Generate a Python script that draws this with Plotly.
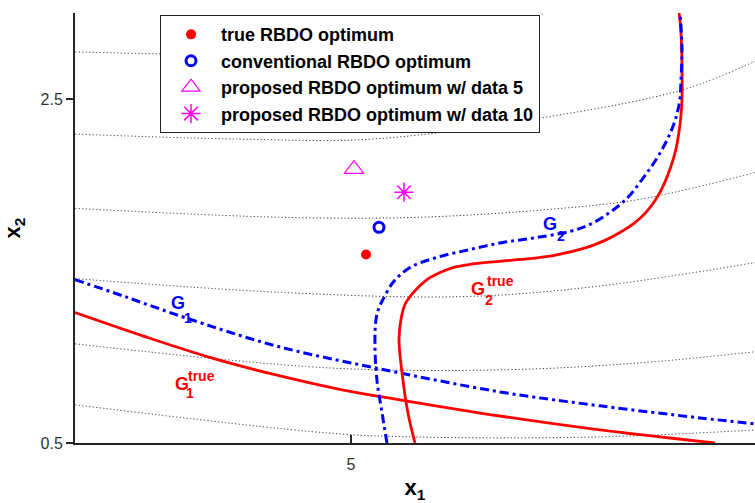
import plotly.graph_objects as go

# ---- data ----
# optimum points
true_opt_x = [5.109]
true_opt_y = [1.596]
conv_opt_x = [5.203]
conv_opt_y = [1.754]
prop5_x = [5.022]
prop5_y = [2.092]
prop10_x = [5.384]
prop10_y = [1.958]

# constraint boundaries
g1_true_x = [3.000, 3.486, 3.964, 4.449, 4.935, 5.355, 6.080, 6.804, 7.638]
g1_true_y = [1.258, 1.124, 1.001, 0.897, 0.809, 0.751, 0.657, 0.576, 0.500]

g1_conv_x = [3.000, 3.362, 3.797, 4.449, 5.174, 6.080, 6.804, 7.529, 7.928]
g1_conv_y = [1.450, 1.351, 1.229, 1.066, 0.937, 0.797, 0.716, 0.646, 0.611]

g2_true_x = [5.464, 5.413, 5.370, 5.348, 5.362, 5.391, 5.428, 5.486, 5.551, 5.645,
             5.739, 5.862, 5.986, 6.225, 6.464, 6.710, 6.841, 6.949, 7.051, 7.138,
             7.210, 7.268, 7.319, 7.355, 7.377, 7.391, 7.399, 7.399, 7.391, 7.377]
g2_true_y = [0.500, 0.675, 0.908, 1.101, 1.217, 1.305, 1.351, 1.404, 1.450, 1.491,
             1.520, 1.538, 1.550, 1.567, 1.590, 1.637, 1.678, 1.724, 1.777, 1.841,
             1.917, 2.004, 2.109, 2.208, 2.308, 2.401, 2.500, 2.692, 2.891, 3.007]

g2_conv_x = [5.261, 5.225, 5.188, 5.174, 5.181, 5.203, 5.232, 5.304, 5.428, 5.623,
             5.862, 6.101, 6.348, 6.587, 6.732, 6.877, 7.007, 7.116, 7.203, 7.275,
             7.326, 7.362, 7.384, 7.391, 7.399, 7.384]
g2_conv_y = [0.500, 0.675, 0.867, 1.060, 1.217, 1.287, 1.334, 1.433, 1.520, 1.579,
             1.625, 1.666, 1.695, 1.730, 1.771, 1.841, 1.928, 2.039, 2.138, 2.237,
             2.325, 2.412, 2.500, 2.599, 2.792, 3.007]

# objective contours (dotted)
contours = [
    ([3.0, 3.638, 4.630, 5.500, 6.080, 6.406], [2.774, 2.762, 2.751, 2.792, 2.891, 3.001]),
    ([3.0, 4.188, 5.152, 6.464, 7.420, 7.935], [2.296, 2.267, 2.267, 2.401, 2.558, 2.722]),
    ([3.0, 4.507, 5.478, 6.449, 7.094, 7.935], [1.864, 1.812, 1.812, 1.859, 1.917, 2.074]),
    ([3.0, 4.507, 5.804, 6.775, 7.935], [1.456, 1.375, 1.351, 1.410, 1.550]),
    ([3.0, 4.833, 6.123, 7.094, 7.935], [1.077, 0.937, 0.926, 0.966, 1.031]),
    ([3.0, 4.833, 5.478, 6.775, 7.935], [0.722, 0.558, 0.535, 0.535, 0.576]),
]

x_tickvals = [5]
x_ticktext = ["5"]
y_tickvals = [0.5, 2.5]
y_ticktext = ["0.5", "2.5"]

legend_names = ["true RBDO optimum", "conventional RBDO optimum",
                "proposed RBDO optimum w/ data 5", "proposed RBDO optimum w/ data 10"]

RED = "#FF0000"
BLUE = "#0000FF"
MAG = "#FF00FF"
FONT = "Liberation Sans, Arial, sans-serif"

fig = go.Figure()

for cx, cy in contours:
    fig.add_trace(go.Scatter(x=cx, y=cy, mode="lines", line_shape="spline",
                             line=dict(color="#333333", width=1, dash="1.2px,2.3px"),
                             showlegend=False, hoverinfo="skip"))

dashdot = "9px,4px,3px,4px"
fig.add_trace(go.Scatter(x=g1_conv_x, y=g1_conv_y, mode="lines", line_shape="spline",
                         line=dict(color=BLUE, width=3, dash=dashdot), showlegend=False))
fig.add_trace(go.Scatter(x=g1_true_x, y=g1_true_y, mode="lines", line_shape="spline",
                         line=dict(color=RED, width=2.8), showlegend=False))
fig.add_trace(go.Scatter(x=g2_true_x, y=g2_true_y, mode="lines", line_shape="spline",
                         line=dict(color=RED, width=2.8), showlegend=False))
fig.add_trace(go.Scatter(x=g2_conv_x, y=g2_conv_y, mode="lines", line_shape="spline",
                         line=dict(color=BLUE, width=3, dash=dashdot), showlegend=False))

fig.add_trace(go.Scatter(x=true_opt_x, y=true_opt_y, mode="markers", name=legend_names[0],
                         marker=dict(symbol="circle", size=10, color=RED)))
fig.add_trace(go.Scatter(x=conv_opt_x, y=conv_opt_y, mode="markers", name=legend_names[1],
                         marker=dict(symbol="circle-open", size=10, color=BLUE,
                                     line=dict(width=3, color=BLUE))))
fig.add_trace(go.Scatter(x=prop5_x, y=prop5_y, mode="markers", name=legend_names[2],
                         marker=dict(symbol="triangle-up-open", size=17, color=MAG,
                                     line=dict(width=1.2, color=MAG))))
fig.add_trace(go.Scatter(x=prop10_x, y=prop10_y, mode="markers", name=legend_names[3],
                         marker=dict(symbol="asterisk-open", size=16, color=MAG,
                                     line=dict(width=1.5, color=MAG))))

def lab(x, y, text, color, size):
    fig.add_annotation(x=x, y=y, xref="x", yref="y", text=text, showarrow=False,
                       font=dict(family=FONT, size=size, color=color, weight="bold"),
                       xanchor="center", yanchor="middle")

lab(3.746, 1.316, "G", BLUE, 18)
lab(3.822, 1.229, "1", BLUE, 14)
lab(3.773, 0.844, "G", RED, 18)
lab(3.920, 0.891, "true", RED, 14)
lab(3.833, 0.792, "1", RED, 14)
lab(6.442, 1.771, "G", BLUE, 18)
lab(6.522, 1.701, "2", BLUE, 14)
lab(5.924, 1.398, "G", RED, 18)
lab(6.080, 1.439, "true", RED, 14)
lab(6.000, 1.334, "2", RED, 14)

fig.update_layout(
    width=755, height=503,
    margin=dict(l=75, r=0, t=13, b=60),
    paper_bgcolor="white", plot_bgcolor="white",
    font=dict(family=FONT, color="#262626"),
    showlegend=True,
    legend=dict(x=0.125, y=0.995, xanchor="left", yanchor="top",
                bgcolor="white", bordercolor="#222222", borderwidth=1,
                itemwidth=50,
                font=dict(family=FONT, size=18, color="black", weight="bold")),
    xaxis=dict(range=[3.0, 7.928], showgrid=False, zeroline=False,
               showline=True, linecolor="#262626", linewidth=2,
               ticks="inside", ticklen=8, tickwidth=2, tickcolor="#262626",
               tickvals=x_tickvals, ticktext=x_ticktext, ticklabelstandoff=6,
               tickfont=dict(size=16, color="#333333"),
               title=dict(text="x<sub>1</sub>", standoff=10,
                          font=dict(size=22, color="black", weight="bold"))),
    yaxis=dict(range=[0.5, 3.0], showgrid=False, zeroline=False,
               showline=True, linecolor="#262626", linewidth=2,
               ticks="outside", ticklen=7, tickwidth=2, tickcolor="#262626",
               tickvals=y_tickvals, ticktext=y_ticktext,
               tickfont=dict(size=16, color="#333333"),
               title=dict(text="x<sub>2</sub>", standoff=18,
                          font=dict(size=22, color="black", weight="bold"))),
)

fig.write_html("out.html", config={"displayModeBar": False},
               post_script="document.body.style.margin='0';document.body.style.overflow='hidden';")
